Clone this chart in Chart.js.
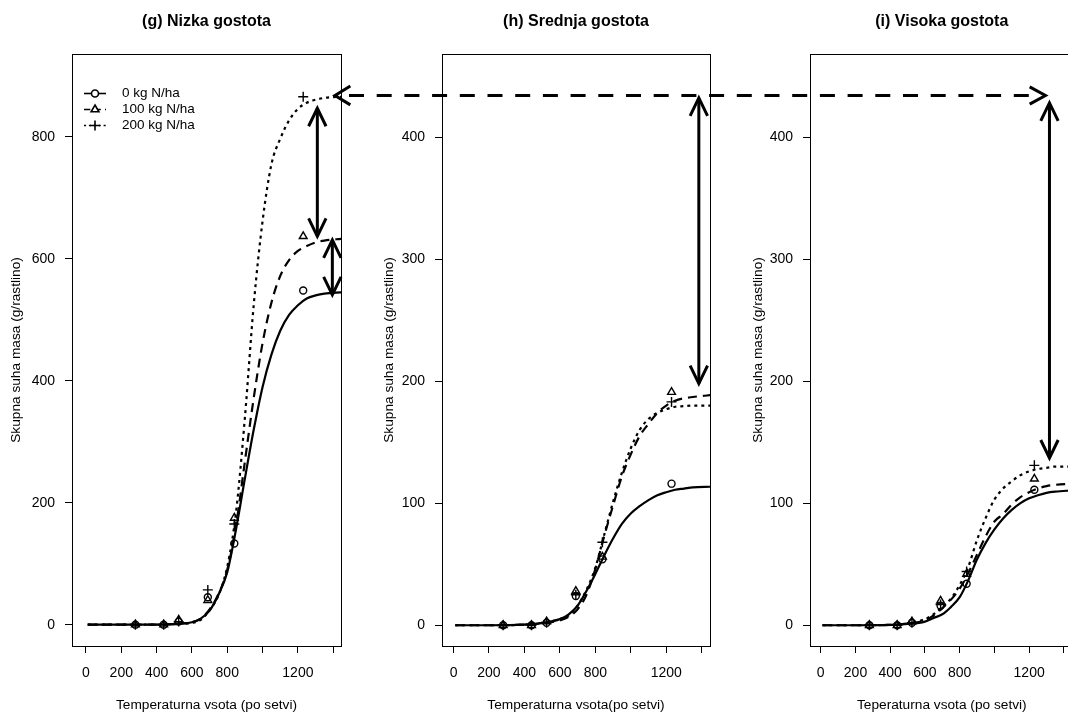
<!DOCTYPE html>
<html>
<head>
<meta charset="utf-8">
<script src="https://cdn.jsdelivr.net/npm/chart.js@4.4.0/dist/chart.umd.min.js"></script>
<style>
  html, body { margin: 0; padding: 0; background: #fff; overflow: hidden; }
  #wrap { position: relative; width: 1068px; height: 713px; overflow: hidden; background: #fff; }
  #wrap canvas { position: absolute; top: 0; }
</style>
</head>
<body>
<div id="wrap">
  <canvas id="chart-g" width="360" height="713" style="left:0px"></canvas>
  <canvas id="chart-h" width="360" height="713" style="left:360px"></canvas>
  <canvas id="chart-i" width="360" height="713" style="left:720px"></canvas>
  <canvas id="bridge" width="1068" height="713" style="left:0px; pointer-events:none"></canvas>
</div>
<script>
Chart.defaults.font.family = "'Liberation Sans', Arial, sans-serif";
Chart.defaults.color = '#000';

// fitted curves
const curveX = [10, 200, 400, 500, 600, 650, 700, 750, 800, 850, 900, 950, 1000, 1050, 1100, 1150, 1200, 1250, 1300, 1350, 1450];

const gCurve0 = [0, 0, 0, 1, 4, 10, 23, 49, 86, 157, 240, 320, 390, 443, 482, 508, 524, 535, 540, 543, 545];
const gCurve100 = [0, 0, 0, 1, 4, 10, 25, 50, 90, 163, 268, 372, 462, 528, 572, 598, 613, 621, 627, 630, 633];
const gCurve200 = [0, 0, 0, 1, 3, 8, 24, 48, 95, 185, 340, 525, 662, 755, 797, 827, 846, 856, 861, 864, 866];

const hCurve0 = [0, 0, 0.5, 2, 5, 9, 16, 28, 42, 57, 71, 83, 91.5, 97.5, 102.5, 106.5, 109, 111, 112, 113, 113.5];
const hCurve100 = [0, 0, 0.5, 1.5, 4, 7, 13, 25, 46, 73, 98, 122, 140, 155, 165, 174, 180, 184, 186, 187, 188.5];
const hCurve200 = [0, 0, 0.5, 2, 5, 8, 16, 29, 47, 74, 101, 125, 145, 160, 169, 174, 177, 179, 179.5, 180, 180];

const iCurve0 = [0, 0, 0.3, 1, 3, 6, 9, 15, 23, 37, 54, 67.5, 78.5, 87.5, 94.5, 100, 104, 106.5, 108.5, 109.5, 110.5];
const iCurve100 = [0, 0, 0.3, 1.5, 4, 8, 14, 21, 30, 43, 58, 73, 85, 91, 99, 105, 109, 112, 114, 115, 116];
const iCurve200 = [0, 0, 0.3, 1.5, 5, 9, 15, 22, 33, 48, 70, 88, 103, 112, 118, 123, 126, 128, 129, 130, 130];

// measured points
const obsX = [280, 440, 525, 690, 840, 1230];

const gObs0 = [0, 0, 5, 45, 133, 548];
const gObs100 = [0, 0, 8, 40, 175, 637];
const gObs200 = [0, 0, 5, 57, 165, 866];

const hObs0 = [0, 0, 2, 24, 54, 116];
const hObs100 = [0, 0, 3, 28, 56, 191];
const hObs200 = [0, 0, 2, 25, 68, 183];

const iObs0 = [0, 0, 2, 16, 34, 111];
const iObs100 = [0, 0, 3, 20, 42, 120];
const iObs200 = [0, 0, 2, 17, 44, 131];

const seriesLabels = ['0 kg N/ha', '100 kg N/ha', '200 kg N/ha'];

const xTicks = [0, 200, 400, 600, 800, 1000, 1200, 1400];
const xTickLabels = [0, 200, 400, 600, 800, 1200];
const yTicksG = [0, 200, 400, 600, 800];
const yTicksHI = [0, 100, 200, 300, 400];

// double arrows: [x, yFrom, yTo] in data units
const gArrows = [[1310, 847, 637], [1395, 631, 541]];
const hArrows = [[1384, 432, 198]];
const iArrows = [[1317, 428, 137]];
// long dashed arrow from panel g to panel i
const bridgeFromX = 1410, bridgeFromY = 868, bridgeToX = 1294;

const styles = [
  { dash: [], point: 'circle', r: 3.5 },
  { dash: [9, 6], point: 'triangle', r: 4.5 },
  { dash: [3, 4], point: 'cross', r: 5 }
];

const drawHead = (ctx, tx, ty, fx, fy, len, ang) => {
  const a = Math.atan2(ty - fy, tx - fx);
  ctx.beginPath();
  ctx.moveTo(tx - len * Math.cos(a - ang), ty - len * Math.sin(a - ang));
  ctx.lineTo(tx, ty);
  ctx.lineTo(tx - len * Math.cos(a + ang), ty - len * Math.sin(a + ang));
  ctx.stroke();
};

const framePlugin = {
  id: 'frame',
  afterDraw(chart) {
    const { ctx, chartArea: a } = chart;
    ctx.save();
    ctx.strokeStyle = '#000';
    ctx.lineWidth = 1;
    ctx.strokeRect(Math.round(a.left) + 0.5, Math.round(a.top) + 0.5, Math.round(a.right - a.left), Math.round(a.bottom - a.top));
    ctx.restore();
  }
};

const arrowPlugin = {
  id: 'arrows',
  afterDraw(chart, args, opts) {
    const { ctx, scales: { x, y } } = chart;
    ctx.save();
    ctx.strokeStyle = '#000';
    ctx.lineWidth = 3;
    ctx.setLineDash([]);
    (opts.list || []).forEach(([xv, y1, y2]) => {
      const px = x.getPixelForValue(xv);
      const p1 = y.getPixelForValue(y1), p2 = y.getPixelForValue(y2);
      ctx.beginPath();
      ctx.moveTo(px, p1);
      ctx.lineTo(px, p2);
      ctx.stroke();
      drawHead(ctx, px, p1, px, p2, 20, 0.45);
      drawHead(ctx, px, p2, px, p1, 20, 0.45);
    });
    ctx.restore();
  }
};

const legendPlugin = {
  id: 'nLegend',
  afterDraw(chart, args, opts) {
    if (!opts.show) return;
    const { ctx, chartArea: a } = chart;
    ctx.save();
    seriesLabels.forEach((lab, k) => {
      const yy = a.top + 39.5 + k * 16;
      ctx.strokeStyle = '#000';
      ctx.lineWidth = 1.6;
      ctx.setLineDash(styles[k].dash.map(d => d * 0.7));
      ctx.beginPath();
      ctx.moveTo(a.left + 12, yy);
      ctx.lineTo(a.left + 34, yy);
      ctx.stroke();
      ctx.setLineDash([]);
      ctx.fillStyle = '#fff';
      Chart.helpers.drawPoint(ctx, { pointStyle: styles[k].point, radius: styles[k].r, borderWidth: 1.3 }, a.left + 23, yy);
      ctx.fillStyle = '#000';
      ctx.font = "13.5px 'Liberation Sans', Arial, sans-serif";
      ctx.textBaseline = 'middle';
      ctx.textAlign = 'left';
      ctx.fillText(lab, a.left + 50, yy);
    });
    ctx.restore();
  }
};

const makePanel = (id, p) => {
  const datasets = [];
  p.curves.forEach((c, k) => {
    datasets.push({
      label: seriesLabels[k],
      data: curveX.map((xv, j) => ({ x: xv, y: c[j] })),
      showLine: true,
      borderColor: '#000',
      borderWidth: 2.2,
      borderDash: styles[k].dash,
      pointRadius: 0,
      cubicInterpolationMode: 'monotone',
      fill: false
    });
  });
  p.obs.forEach((o, k) => {
    datasets.push({
      label: seriesLabels[k] + ' obs',
      data: obsX.map((xv, j) => ({ x: xv, y: o[j] })),
      showLine: false,
      pointStyle: styles[k].point,
      pointRadius: styles[k].r,
      pointBorderWidth: 1.4,
      borderColor: '#000',
      backgroundColor: 'rgba(0,0,0,0)'
    });
  });

  return new Chart(document.getElementById(id), {
    type: 'scatter',
    data: { datasets },
    plugins: [framePlugin, arrowPlugin, legendPlugin],
    options: {
      responsive: false,
      animation: false,
      devicePixelRatio: 1,
      layout: { padding: { left: 0, right: p.padRight, top: 0, bottom: 0 } },
      plugins: {
        legend: { display: false },
        tooltip: { enabled: false },
        title: {
          display: true, text: p.title, fullSize: false, color: '#000',
          font: { size: 16, weight: 'bold' }, padding: { top: 12.4, bottom: 22.4 }
        },
        arrows: { list: p.arrows },
        nLegend: { show: !!p.legend }
      },
      scales: {
        x: {
          type: 'linear', min: p.xMin, max: p.xMax,
          afterBuildTicks: s => { s.ticks = xTicks.map(v => ({ value: v })); },
          afterFit: s => { s.height = 67; },
          ticks: {
            autoSkip: false, maxRotation: 0, padding: 12, font: { size: 14 }, color: '#000',
            callback: v => xTickLabels.includes(v) ? String(v) : ''
          },
          grid: { drawOnChartArea: false, drawTicks: true, tickLength: 7, color: '#000' },
          border: { display: true, color: '#000', width: 1 },
          title: { display: true, text: p.xTitle, font: { size: 13.7 }, color: '#000', padding: { top: 0, bottom: 0 } }
        },
        y: {
          type: 'linear', min: p.yMin, max: p.yMax,
          afterBuildTicks: s => { s.ticks = p.yTicks.map(v => ({ value: v })); },
          afterFit: s => { s.width = p.yWidth; },
          ticks: { padding: 10, font: { size: 14 }, color: '#000' },
          grid: { drawOnChartArea: false, drawTicks: true, tickLength: 7, color: '#000' },
          border: { display: true, color: '#000', width: 1 },
          title: { display: true, text: 'Skupna suha masa (g/rastlino)', font: { size: 13.7 }, color: '#000', padding: { top: p.yTitlePad, bottom: 0 } }
        }
      }
    }
  });
};

const gChart = makePanel('chart-g', {
  title: '(g) Nizka gostota', xTitle: 'Temperaturna vsota (po setvi)',
  curves: [gCurve0, gCurve100, gCurve200], obs: [gObs0, gObs100, gObs200],
  xMin: -79, xMax: 1444, yMin: -35, yMax: 936, yTicks: yTicksG,
  yWidth: 72, padRight: 19, yTitlePad: 8.5, arrows: gArrows, legend: true
});
const hChart = makePanel('chart-h', {
  title: '(h) Srednja gostota', xTitle: 'Temperaturna vsota(po setvi)',
  curves: [hCurve0, hCurve100, hCurve200], obs: [hObs0, hObs100, hObs200],
  xMin: -65, xMax: 1447, yMin: -17, yMax: 468, yTicks: yTicksHI,
  yWidth: 82, padRight: 10, yTitlePad: 21.5, arrows: hArrows
});
const iChart = makePanel('chart-i', {
  title: '(i) Visoka gostota', xTitle: 'Teperaturna vsota (po setvi)',
  curves: [iCurve0, iCurve100, iCurve200], obs: [iObs0, iObs100, iObs200],
  xMin: -62, xMax: 1456, yMin: -17, yMax: 468, yTicks: yTicksHI,
  yWidth: 90, padRight: 2, yTitlePad: 30.5, arrows: iArrows
});

// dashed arrow linking the panels
const drawBridge = () => {
  const cv = document.getElementById('bridge');
  const ctx = cv.getContext('2d');
  const gLeft = document.getElementById('chart-g').offsetLeft;
  const iLeft = document.getElementById('chart-i').offsetLeft;
  const x1 = gLeft + gChart.scales.x.getPixelForValue(bridgeFromX);
  const yy = gChart.scales.y.getPixelForValue(bridgeFromY);
  const x2 = iLeft + iChart.scales.x.getPixelForValue(bridgeToX);
  ctx.strokeStyle = '#000';
  ctx.lineWidth = 3;
  ctx.setLineDash([15, 12.7]);
  ctx.beginPath();
  ctx.moveTo(x1 + 14, yy);
  ctx.lineTo(x2 - 4, yy);
  ctx.stroke();
  ctx.setLineDash([]);
  drawHead(ctx, x1, yy, x2, yy, 18, 0.55);
  drawHead(ctx, x2, yy, x1, yy, 18, 0.5);
};
drawBridge();
</script>
</body>
</html>
